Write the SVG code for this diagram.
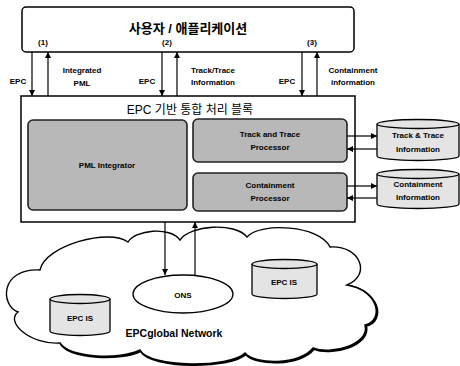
<svg xmlns="http://www.w3.org/2000/svg" width="460" height="366" viewBox="0 0 460 366">
<style>
text{font-family:"Liberation Sans","Noto Sans CJK KR",sans-serif;fill:#000;text-anchor:middle;dominant-baseline:central}
.lbl{font-size:8px;font-weight:bold}
.box{fill:#fff;stroke:#000;stroke-width:1.5}
.proc{fill:#b8b8b8;stroke:#222;stroke-width:1.6}
.cyl{fill:#e4e4e4;stroke:#000;stroke-width:1.3}
.ln{stroke:#000;stroke-width:1.2;fill:none}
</style>
<defs>
<marker id="ah" viewBox="0 0 6 6" refX="6" refY="3" markerWidth="6" markerHeight="6" markerUnits="userSpaceOnUse" orient="auto">
<path d="M0,0 L6,3 L0,6 z" fill="#000"/>
</marker>
</defs>

<g id="cloud">
<path d="M347,285 C378,290 385,320 365,325 C370,345 330,355 313,348 C300,365 255,365 245,353 C230,368 150,368 140,350 C120,360 70,358 60,343" fill="none" stroke="#000" stroke-width="2.6" transform="translate(0.8,0.8)"/>
<path d="M40,270 C45,245 110,228 128,242 C135,230 170,226 180,240 C190,225 235,222 247,237 C260,222 320,225 330,247 C360,245 372,275 347,285 C378,290 385,320 365,325 C370,345 330,355 313,348 C300,365 255,365 245,353 C230,368 150,368 140,350 C120,360 70,358 60,343 C30,345 5,322 18,312 C0,305 0,268 40,270 Z" fill="#fff" stroke="#000" stroke-width="1.4"/>
<text x="174" y="333" style="font-size:10.5px;font-weight:bold">EPCglobal Network</text>
</g>

<g id="user-app">
<rect class="box" x="22" y="7" width="332" height="45" rx="4"/>
<text x="188" y="28" style="font-size:13px;font-weight:bold">사용자 / 애플리케이션</text>
<text class="lbl" x="43" y="42">(1)</text>
<text class="lbl" x="167" y="42">(2)</text>
<text class="lbl" x="312" y="42">(3)</text>
</g>

<g id="epc-block">
<rect class="box" x="21" y="96" width="334" height="126"/>
<text x="190" y="110" style="font-size:12px">EPC 기반 통합 처리 블록</text>
</g>

<g id="pml-integrator">
<rect class="proc" x="28" y="120" width="159" height="90" rx="5"/>
<text class="lbl" x="107" y="165">PML Integrator</text>
</g>

<g id="track-processor">
<rect class="proc" x="193" y="119" width="154" height="43" rx="5"/>
<text class="lbl" x="270" y="134">Track and Trace</text>
<text class="lbl" x="270" y="147">Processor</text>
</g>

<g id="containment-processor">
<rect class="proc" x="193" y="173" width="154" height="38" rx="5"/>
<text class="lbl" x="270" y="185">Containment</text>
<text class="lbl" x="270" y="198">Processor</text>
</g>

<g id="track-info">
<path class="cyl" d="M377,124 L377,156 A41,4.5 0 0 0 459,156 L459,124"/>
<ellipse class="cyl" cx="418" cy="124" rx="41" ry="4.5"/>
<text class="lbl" x="418" y="135">Track &amp; Trace</text>
<text class="lbl" x="418" y="149">Information</text>
</g>

<g id="containment-info">
<path class="cyl" d="M377,174 L377,204 A41,4.5 0 0 0 459,204 L459,174"/>
<ellipse class="cyl" cx="418" cy="174" rx="41" ry="4.5"/>
<text class="lbl" x="418" y="184">Containment</text>
<text class="lbl" x="418" y="197">Information</text>
</g>

<g id="ons">
<ellipse cx="183" cy="294" rx="50" ry="19" fill="#fff" stroke="#000" stroke-width="1.3"/>
<text class="lbl" x="183" y="295">ONS</text>
</g>

<g id="epc-is-left">
<path class="cyl" d="M50,299 L50,331 A30,4.5 0 0 0 110,331 L110,299"/>
<ellipse class="cyl" cx="80" cy="299" rx="30" ry="4.5"/>
<text class="lbl" x="80" y="318">EPC IS</text>
</g>

<g id="epc-is-right">
<path class="cyl" d="M252,264 L252,294 A32.5,4.5 0 0 0 317,294 L317,264"/>
<ellipse class="cyl" cx="284.5" cy="264" rx="32.5" ry="4.5"/>
<text class="lbl" x="284" y="282">EPC IS</text>
</g>

<g id="connectors">
<line class="ln" x1="32" y1="52" x2="32" y2="96" marker-end="url(#ah)"/>
<line class="ln" x1="48" y1="96" x2="48" y2="52" marker-end="url(#ah)"/>
<line class="ln" x1="162" y1="52" x2="162" y2="96" marker-end="url(#ah)"/>
<line class="ln" x1="177" y1="96" x2="177" y2="52" marker-end="url(#ah)"/>
<line class="ln" x1="302" y1="52" x2="302" y2="96" marker-end="url(#ah)"/>
<line class="ln" x1="317" y1="96" x2="317" y2="52" marker-end="url(#ah)"/>
<text class="lbl" x="18" y="81">EPC</text>
<text class="lbl" x="82" y="70">Integrated</text>
<text class="lbl" x="82" y="83">PML</text>
<text class="lbl" x="147" y="81">EPC</text>
<text class="lbl" x="213" y="70">Track/Trace</text>
<text class="lbl" x="213" y="82">Information</text>
<text class="lbl" x="287" y="81">EPC</text>
<text class="lbl" x="353" y="70">Containment</text>
<text class="lbl" x="353" y="82">information</text>
<line class="ln" x1="347" y1="136" x2="377" y2="136" marker-end="url(#ah)"/>
<line class="ln" x1="377" y1="149" x2="347" y2="149" marker-end="url(#ah)"/>
<line class="ln" x1="347" y1="186" x2="377" y2="186" marker-end="url(#ah)"/>
<line class="ln" x1="377" y1="198" x2="347" y2="198" marker-end="url(#ah)"/>
<line class="ln" x1="165" y1="222" x2="165" y2="275" marker-end="url(#ah)"/>
<line class="ln" x1="195" y1="275" x2="195" y2="222" marker-end="url(#ah)"/>
</g>
</svg>
